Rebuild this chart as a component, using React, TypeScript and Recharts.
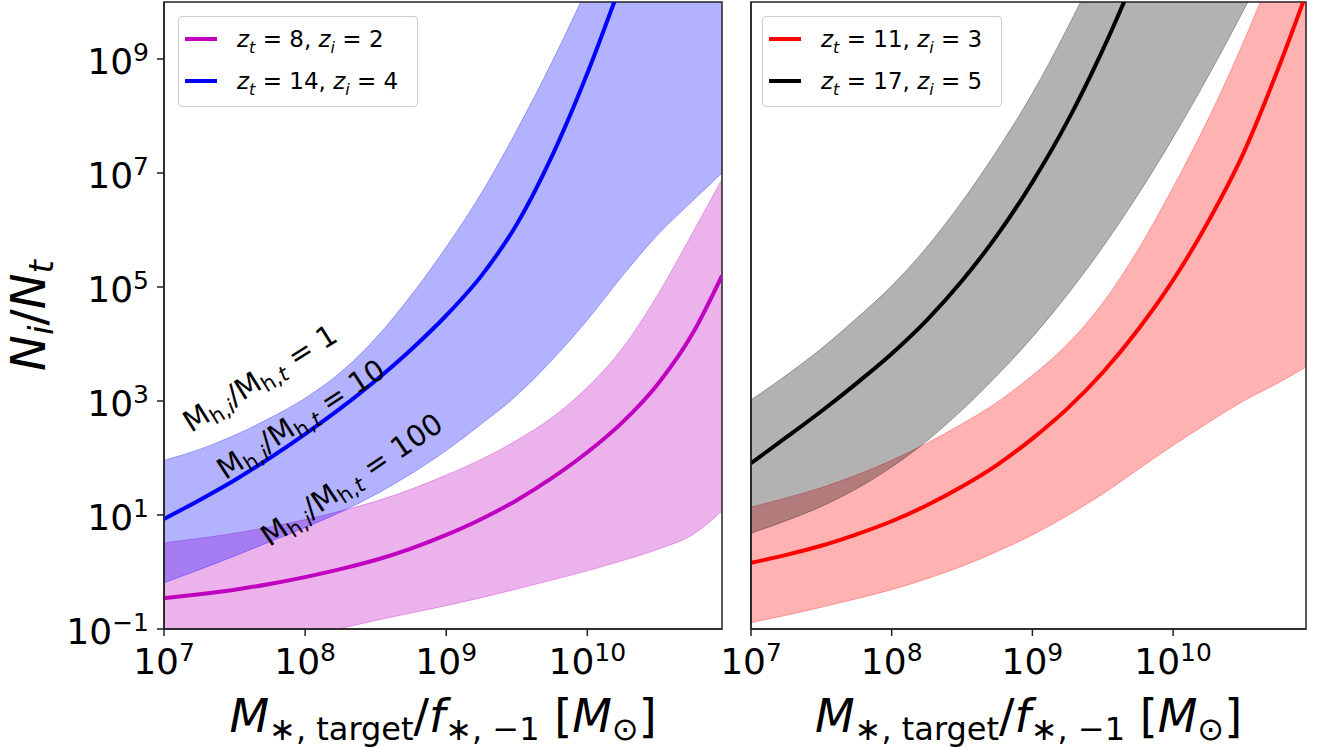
import {
  Area,
  ComposedChart,
  Legend,
  Line,
  ReferenceArea,
  ReferenceDot,
  XAxis,
  YAxis,
} from "recharts";

// log10(M*,target / f*,-1) at which the curves were read
const LOG_MASS = [7, 7.25, 7.5, 7.75, 8, 8.25, 8.5, 8.75, 9, 9.25, 9.5, 9.75, 10, 10.25, 10.5, 10.75, 10.954];

// left panel, log10(N_i / N_t)
const Z8_MID = [-0.46, -0.39, -0.31, -0.21, -0.09, 0.05, 0.21, 0.41, 0.65, 0.93, 1.26, 1.65, 2.1, 2.63, 3.3, 4.2, 5.2];
const Z8_LOW = [-1.6, -1.5, -1.39, -1.27, -1.13, -0.99, -0.85, -0.72, -0.59, -0.45, -0.3, -0.14, 0.02, 0.2, 0.4, 0.66, 1.07];
const Z8_HIGH = [0.51, 0.59, 0.68, 0.79, 0.92, 1.07, 1.24, 1.45, 1.7, 1.98, 2.31, 2.71, 3.24, 3.93, 4.87, 5.97, 6.89];

const Z14_MID = [0.93, 1.26, 1.61, 2.0, 2.42, 2.87, 3.36, 3.9, 4.5, 5.2, 6.1, 7.3, 8.75, 10.4, 12.1, 13.8, 15.2];
const Z14_LOW = [-0.19, 0.04, 0.28, 0.53, 0.78, 1.05, 1.36, 1.72, 2.13, 2.6, 3.1, 3.72, 4.42, 5.2, 5.92, 6.52, 7.0];
const Z14_HIGH = [1.96, 2.15, 2.4, 2.7, 3.05, 3.5, 4.1, 4.85, 5.7, 6.65, 7.75, 8.95, 10.25, 11.6, 12.9, 14.2, 15.3];

// right panel
const Z11_MID = [0.16, 0.3, 0.46, 0.66, 0.89, 1.17, 1.5, 1.88, 2.34, 2.87, 3.5, 4.25, 5.12, 6.15, 7.35, 8.85, 10.2];
const Z11_LOW = [-0.89, -0.76, -0.62, -0.47, -0.31, -0.12, 0.1, 0.36, 0.65, 0.99, 1.37, 1.8, 2.22, 2.62, 3.0, 3.32, 3.61];
const Z11_HIGH = [1.14, 1.3, 1.48, 1.7, 1.96, 2.26, 2.6, 2.98, 3.45, 4.0, 4.72, 5.65, 6.75, 7.95, 9.3, 10.8, 12.1];

const Z17_MID = [1.91, 2.36, 2.82, 3.31, 3.83, 4.42, 5.11, 5.91, 6.84, 7.91, 9.16, 10.58, 12.15, 13.7, 15.2, 16.7, 18.0];
const Z17_LOW = [0.68, 0.9, 1.15, 1.46, 1.84, 2.3, 2.84, 3.45, 4.12, 4.87, 5.7, 6.62, 7.62, 8.7, 9.85, 11.05, 12.0];
const Z17_HIGH = [3.02, 3.45, 3.92, 4.45, 5.02, 5.7, 6.5, 7.4, 8.4, 9.55, 10.8, 12.1, 13.5, 14.9, 16.3, 17.7, 18.9];

const X_TICK_EXP = [7, 8, 9, 10];
const Y_TICK_EXP = [-1, 1, 3, 5, 7, 9];

const LEFT_LEGEND = [
  { zt: "8", zi: "2", color: "#bf00bf" },
  { zt: "14", zi: "4", color: "#0000ff" },
];
const RIGHT_LEGEND = [
  { zt: "11", zi: "3", color: "#ff0000" },
  { zt: "17", zi: "5", color: "#000000" },
];

// halo-mass ratio labels, anchored in (log x, log y)
const NOTES = [
  { ratio: "1", lx: 7.68, ly: 3.4, tilt: -32 },
  { ratio: "10", lx: 7.97, ly: 2.68, tilt: -33 },
  { ratio: "100", lx: 8.33, ly: 1.62, tilt: -34 },
];

const pow = (v: number) => 10 ** v;

const leftRows = LOG_MASS.map((u, i) => ({
  x: pow(u),
  aMid: pow(Z8_MID[i]),
  aBand: [pow(Z8_LOW[i]), pow(Z8_HIGH[i])],
  bMid: pow(Z14_MID[i]),
  bBand: [pow(Z14_LOW[i]), pow(Z14_HIGH[i])],
}));

const rightRows = LOG_MASS.map((u, i) => ({
  x: pow(u),
  aMid: pow(Z11_MID[i]),
  aBand: [pow(Z11_LOW[i]), pow(Z11_HIGH[i])],
  bMid: pow(Z17_MID[i]),
  bBand: [pow(Z17_LOW[i]), pow(Z17_HIGH[i])],
}));

const FONT = "'DejaVu Sans', sans-serif";
const AXIS = "#222222";
const Y_MIN = 0.1;
const Y_MAX = 1e10;

function XTick({ x, y, index }: any) {
  return (
    <text x={x} y={y + 38} textAnchor="middle" fontSize={36} fill="#000">
      10
      <tspan dy={-13} fontSize={25}>
        {X_TICK_EXP[index]}
      </tspan>
    </text>
  );
}

function YTick({ x, y, index }: any) {
  const e = Y_TICK_EXP[index];
  return (
    <text x={x} y={y + 15} textAnchor="end" fontSize={36} fill="#000">
      10
      <tspan dy={-13} fontSize={25}>
        {e < 0 ? `\u2212${-e}` : e}
      </tspan>
    </text>
  );
}

function XLabel({ viewBox }: any) {
  const cx = viewBox.x + viewBox.width / 2;
  const base = viewBox.y + 103;
  return (
    <text x={cx} y={base} textAnchor="middle" fontSize={46} fill="#000">
      <tspan fontStyle="italic">M</tspan>
      <tspan fontSize={32} dy={8}>{"\u2217, target"}</tspan>
      <tspan dy={-8}>/</tspan>
      <tspan fontStyle="italic">f</tspan>
      <tspan fontSize={32} dy={8}>{"\u2217, \u22121"}</tspan>
      <tspan dy={-8}>{" ["}</tspan>
      <tspan fontStyle="italic">M</tspan>
      <tspan fontSize={32} dy={8}>{"\u2299"}</tspan>
      <tspan dy={-8}>]</tspan>
    </text>
  );
}

function YLabel({ viewBox }: any) {
  const bx = viewBox.x + 1;
  const cy = viewBox.y + viewBox.height / 2;
  return (
    <text
      x={bx}
      y={cy}
      textAnchor="middle"
      fontSize={48}
      fill="#000"
      transform={`rotate(-90 ${bx} ${cy})`}
    >
      <tspan fontStyle="italic">N</tspan>
      <tspan fontSize={34} dy={8} fontStyle="italic">i</tspan>
      <tspan dy={-8}>/</tspan>
      <tspan fontStyle="italic">N</tspan>
      <tspan fontSize={34} dy={8} fontStyle="italic">t</tspan>
    </text>
  );
}

function NoteLabel({ viewBox, ratio, tilt }: any) {
  const cx = viewBox.x + (viewBox.width || 0) / 2;
  const cy = viewBox.y + (viewBox.height || 0) / 2;
  return (
    <text
      x={cx}
      y={cy + 10}
      textAnchor="middle"
      fontSize={29}
      fill="#000"
      transform={`rotate(${tilt} ${cx} ${cy})`}
    >
      M
      <tspan fontSize={21} dy={6}>h,</tspan>
      <tspan fontSize={21} fontStyle="italic">i</tspan>
      <tspan dy={-6}>/M</tspan>
      <tspan fontSize={21} dy={6}>h,</tspan>
      <tspan fontSize={21} fontStyle="italic">t</tspan>
      <tspan dy={-6}>{` = ${ratio}`}</tspan>
    </text>
  );
}

function LegendBox({ items }: any) {
  return (
    <div
      style={{
        width: 240,
        height: 91,
        boxSizing: "border-box",
        border: "1px solid #cccccc",
        borderRadius: 4,
        background: "rgba(255,255,255,0.8)",
        paddingTop: 1,
        fontFamily: FONT,
        fontSize: 23,
        color: "#000",
      }}
    >
      {items.map((item: any) => (
        <div key={item.zt} style={{ height: 42, display: "flex", alignItems: "center" }}>
          <span style={{ marginLeft: 6, width: 32, height: 4, background: item.color }} />
          <span style={{ marginLeft: 20, whiteSpace: "nowrap" }}>
            <i>z</i>
            <i style={{ fontSize: 16, position: "relative", top: 6 }}>t</i>
            {` = ${item.zt}, `}
            <i>z</i>
            <i style={{ fontSize: 16, position: "relative", top: 6 }}>i</i>
            {` = ${item.zi}`}
          </span>
        </div>
      ))}
    </div>
  );
}

type PanelProps = {
  rows: any[];
  legend: { zt: string; zi: string; color: string }[];
  left: number;
  width: number;
  xMax: number;
  yLabels: boolean;
  notes?: typeof NOTES;
};

function Panel({ rows, legend, left, width, xMax, yLabels, notes = [] }: PanelProps) {
  const yWidth = yLabels ? 120 : 16;
  const marginLeft = yLabels ? 44 : 35;
  const [first, second] = legend;
  return (
    <div style={{ position: "absolute", left, top: 0 }}>
      <ComposedChart
        width={width}
        height={748}
        data={rows}
        margin={{ top: 2, right: yLabels ? 13 : 14, bottom: 0, left: marginLeft }}
      >
        <XAxis
          dataKey="x"
          type="number"
          scale="log"
          domain={[1e7, xMax]}
          allowDataOverflow
          ticks={X_TICK_EXP.map(pow)}
          interval={0}
          height={119}
          tickSize={7}
          tickMargin={0}
          axisLine={{ stroke: AXIS, strokeWidth: 1.5 }}
          tickLine={{ stroke: AXIS, strokeWidth: 1.5 }}
          tick={<XTick />}
          label={<XLabel />}
        />
        <YAxis
          type="number"
          scale="log"
          domain={[Y_MIN, Y_MAX]}
          allowDataOverflow
          ticks={Y_TICK_EXP.map(pow)}
          interval={0}
          width={yWidth}
          tickSize={7}
          tickMargin={8}
          axisLine={{ stroke: AXIS, strokeWidth: 1.5 }}
          tickLine={{ stroke: AXIS, strokeWidth: 1.5 }}
          tick={yLabels ? <YTick /> : false}
          label={yLabels ? <YLabel /> : undefined}
        />
        <Area
          type="monotone"
          dataKey="aBand"
          fill={first.color}
          fillOpacity={0.3}
          stroke={first.color}
          strokeOpacity={0.3}
          strokeWidth={1}
          isAnimationActive={false}
        />
        <Line
          type="monotone"
          dataKey="aMid"
          stroke={first.color}
          strokeWidth={4}
          dot={false}
          isAnimationActive={false}
        />
        <Area
          type="monotone"
          dataKey="bBand"
          fill={second.color}
          fillOpacity={0.3}
          stroke={second.color}
          strokeOpacity={0.3}
          strokeWidth={1}
          isAnimationActive={false}
        />
        <Line
          type="monotone"
          dataKey="bMid"
          stroke={second.color}
          strokeWidth={4}
          dot={false}
          isAnimationActive={false}
        />
        {notes.map((n) => (
          <ReferenceDot
            key={n.ratio}
            x={pow(n.lx)}
            y={pow(n.ly)}
            r={0}
            fill="none"
            stroke="none"
            ifOverflow="visible"
            label={<NoteLabel ratio={n.ratio} tilt={n.tilt} />}
          />
        ))}
        <ReferenceArea
          x1={1e7}
          x2={xMax}
          y1={Y_MIN}
          y2={Y_MAX}
          fill="none"
          stroke={AXIS}
          strokeWidth={1.5}
          ifOverflow="visible"
        />
        <Legend
          layout="vertical"
          align="center"
          verticalAlign="middle"
          wrapperStyle={{ left: yLabels ? 178 : 62, top: 16, width: 240 }}
          content={() => <LegendBox items={legend} />}
        />
      </ComposedChart>
    </div>
  );
}

export default function App() {
  return (
    <div
      style={{
        position: "absolute",
        left: 0,
        top: 0,
        width: 1320,
        height: 748,
        background: "#fff",
        fontFamily: FONT,
      }}
    >
      <Panel
        rows={leftRows}
        legend={LEFT_LEGEND}
        left={0}
        width={735}
        xMax={9.0e10}
        yLabels
        notes={NOTES}
      />
      <Panel rows={rightRows} legend={RIGHT_LEGEND} left={700} width={620} xMax={8.8e10} yLabels={false} />
    </div>
  );
}
